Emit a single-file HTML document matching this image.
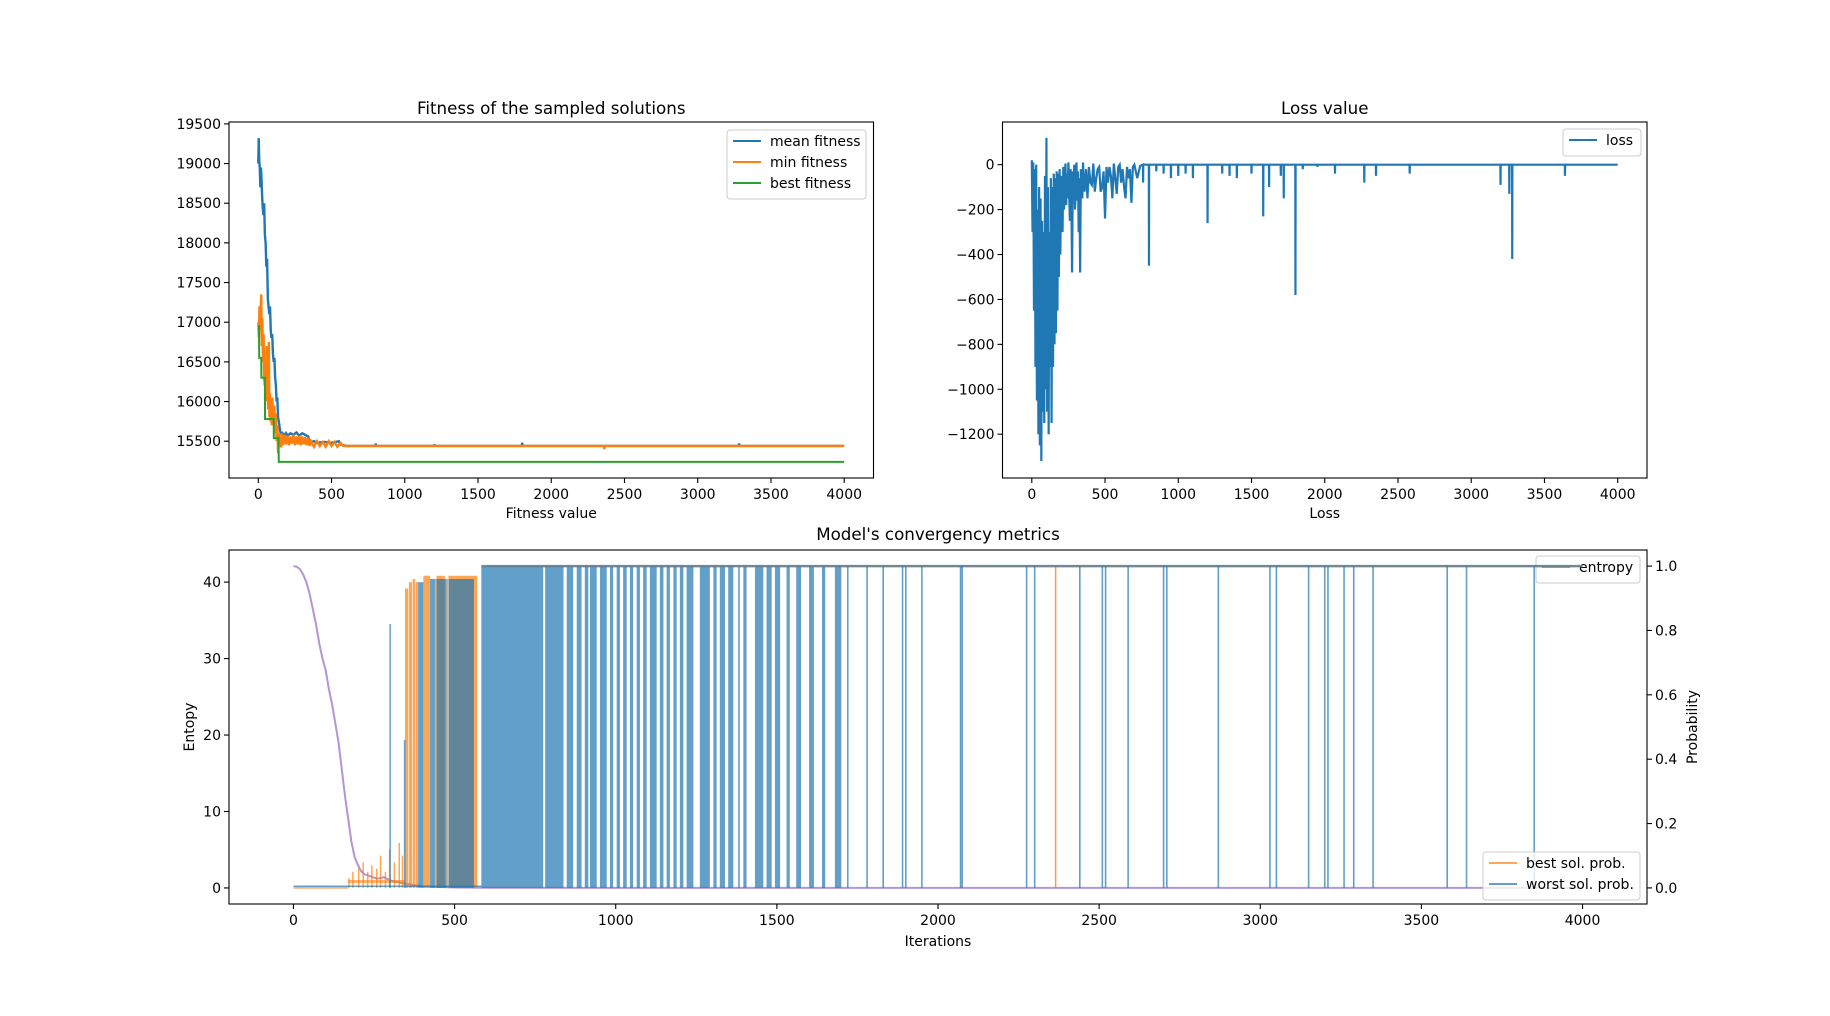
<!DOCTYPE html>
<html><head><meta charset="utf-8">
<style>
html,body{margin:0;padding:0;background:#fff;}
svg{display:block;font-family:"DejaVu Sans","Liberation Sans",sans-serif;}
</style></head>
<body>
<svg id="fig" width="1830" height="1016" viewBox="0 0 1830 1016" xmlns="http://www.w3.org/2000/svg">
<rect width="1830" height="1016" fill="#fff"/>
</svg>
<script>
// ---------- data ----------
const xTicks = [0,500,1000,1500,2000,2500,3000,3500,4000];
const fitTicks = [15500,16000,16500,17000,17500,18000,18500,19000,19500];
const lossTicks = [0,-200,-400,-600,-800,-1000,-1200];
const entTicks = [0,10,20,30,40];
const probTicks = [0.0,0.2,0.4,0.6,0.8,1.0];

const meanX = [0,3,6,10,14,18,22,26,30,35,40,45,50,55,60,65,70,75,80,85,90,95,100,105,110,115,120,125,130,135,140,145,150,155,160,165,170,175,180,190,200,220,240,260,280,300,320,340,350,360,380,400,450,500,550,560,580,600,800,801,805,1200,1201,1205,1800,1801,1805,3280,3282,3286,4000];
const meanY = [19000,19320,19050,18950,18700,18950,18800,18600,18450,18350,18500,18100,18000,17700,17800,17300,17200,17100,17200,16900,16800,16850,16600,16500,16550,16300,16200,16000,16050,15800,15750,15680,15620,15600,15570,15590,15560,15580,15560,15600,15570,15600,15580,15610,15570,15600,15580,15560,15500,15490,15500,15480,15490,15480,15500,15460,15450,15440,15440,15470,15440,15440,15460,15440,15440,15480,15440,15440,15470,15440,15440];

const minX = [0,4,8,12,16,20,24,28,32,36,40,44,48,52,56,60,64,68,72,76,80,84,88,92,96,100,105,110,115,120,125,130,135,140,145,150,155,160,170,180,190,200,210,220,230,240,250,260,270,280,290,300,310,320,330,340,350,360,380,400,420,440,460,480,500,520,540,560,580,600,2360,2362,2366,4000];
const minY = [17000,16800,17200,16900,17150,17350,16700,17050,16500,16850,16300,16200,16500,16000,16700,16100,16600,15900,16750,15800,16100,15750,16000,15700,16050,15800,15700,15950,15600,15850,15500,15700,15350,15600,15450,15550,15420,15600,15450,15580,15460,15570,15450,15560,15470,15580,15450,15560,15460,15570,15450,15560,15460,15550,15450,15540,15440,15500,15430,15500,15440,15490,15430,15500,15440,15490,15430,15480,15440,15440,15440,15400,15440,15440];

const bestX = [0,5,6,20,21,40,45,46,100,105,106,135,138,140,4000];
const bestY = [16950,16950,16550,16550,16300,16300,16300,15780,15780,15780,15540,15540,15540,15240,15240];

const lossX = [0,5,10,15,20,25,30,35,40,45,50,55,60,65,70,75,80,85,90,95,100,105,110,115,120,125,130,135,140,145,150,155,160,165,170,175,180,185,190,195,200,205,210,215,220,225,230,235,240,245,250,255,260,265,270,275,280,285,290,295,300,305,310,315,320,325,330,335,340,345,350,355,360,370,380,390,400,410,420,430,440,450,460,470,480,490,500,510,520,530,540,550,560,570,580,590,600,610,620,630,640,650,660,670,680,690,700,720,740];
const lossY = [20,-300,10,-650,-20,-900,0,-1050,-200,-1200,-100,-1250,-150,-1320,-250,-1100,-300,-1150,-50,-1000,120,-1100,-100,-1200,-300,-900,-60,-1150,-100,-900,-40,-800,-60,-750,-30,-650,-40,-500,-20,-400,-50,-200,-300,-10,-200,-60,5,-180,-40,-150,10,-120,-250,-20,-150,-480,-30,-100,0,-200,-100,10,-160,-30,-300,-60,-480,-20,-50,-150,10,-100,-120,-20,-150,-10,-80,-90,5,-120,-60,-20,-10,-120,-100,-30,-240,-10,-80,-10,-50,-150,5,-60,-130,-10,0,-80,-20,-100,-150,-10,-60,-20,-170,-10,0,-60,-5];
const lossSpikeX = [760,800,850,900,950,1000,1050,1100,1200,1300,1350,1400,1500,1580,1620,1700,1720,1800,1850,1950,2070,2270,2350,2580,3200,3260,3280,3640];
const lossSpikeY = [-80,-450,-30,-40,-60,-50,-40,-60,-260,-40,-50,-60,-40,-230,-100,-50,-150,-580,-20,-10,-40,-80,-50,-40,-90,-130,-420,-50];

const entX = [0,10,20,30,40,50,60,70,80,90,100,110,120,130,140,150,160,170,180,190,200,210,220,240,260,280,300,340,400,500,600,1700,4000];
const entY = [42.1,42,41.7,41,40,38.5,36.5,34.5,32,30,28.5,26,24,21.5,19,15.5,12,9,6,4,3,2.2,1.8,1.5,1.2,1.4,1.0,0.6,0.2,0.05,0.02,0.01,0];

// orange "best solution probability" dense bands: start, end, top value
const bestBandStart = [170,182,200,214,228,241,256,268,283,296,311,326,336,346,358,370,380,403,439,444,475,481];
const bestBandEnd   = [172,184,202,216,230,243,258,270,285,298,313,328,338,356,368,378,387,424,441,470,478,570];
const bestBandTop   = [0.03,0.05,0.06,0.08,0.05,0.07,0.06,0.1,0.05,0.12,0.08,0.14,0.1,0.93,0.95,0.96,0.95,0.97,0.96,0.97,0.96,0.97];
const bestOnX = 600; // value stays at 1 after this iteration
const bestSpikeX = [2365];

// blue "worst solution probability" dense bands
const worstBandStart = [387,424,444,481,583,781,848,879,904,920,951,982,1003,1023,1044,1065,1085,1106,1137,1158,1179,1199,1220,1261,1303,1323,1349,1380,1396,1432,1468,1494,1530,1560,1600,1640,1680];
const worstBandEnd   = [403,439,475,560,775,838,868,894,915,941,972,992,1013,1034,1054,1075,1096,1127,1148,1168,1189,1210,1241,1292,1313,1339,1365,1385,1406,1458,1484,1510,1540,1575,1615,1650,1700];
const worstBandTop   = [0.95,0.96,0.96,0.96,1,1,1,1,1,1,1,1,1,1,1,1,1,1,1,1,1,1,1,1,1,1,1,1,1,1,1,1,1,1,1,1,1];
const worstDropX = [1720,1780,1830,1890,1900,1950,2070,2075,2275,2300,2440,2510,2520,2590,2700,2710,2870,3030,3050,3150,3200,3210,3260,3290,3350,3580,3640,3850];
const worstSpikeX = [300,345];
const worstSpikeY = [0.82,0.46];

// ---------- helpers ----------
const NS = "http://www.w3.org/2000/svg";
const fig = document.getElementById('fig');
function mk(tag, attrs, parent){
  const e = document.createElementNS(NS, tag);
  for (const k in attrs) e.setAttribute(k, attrs[k]);
  (parent||fig).appendChild(e);
  return e;
}
function lin(d0,d1,p0,p1){ return v => p0 + (v-d0)/(d1-d0)*(p1-p0); }
function pts(xs, ys, sx, sy){ return xs.map((x,i)=>sx(x).toFixed(2)+','+sy(ys[i]).toFixed(2)).join(' '); }

function frame(L,T,R,B,name){
  const r = mk('rect',{x:L,y:T,width:R-L,height:B-T,fill:'none',stroke:'#000','stroke-width':1.1});
  
  
}
function xAxis(ticks, sx, B, name){
  const g = mk('g',{});
  
  
  ticks.forEach(t=>{
    const x = sx(t);
    mk('line',{x1:x,x2:x,y1:B,y2:B+5,stroke:'#000','stroke-width':1.1},g);
    const tx = mk('text',{x:x,y:B+21,'font-size':14,'text-anchor':'middle',fill:'#000'},g);
    tx.textContent = t;
  });
}
function yAxis(ticks, sy, L, name, fmt, right){
  const g = mk('g',{});
  
  
  ticks.forEach(t=>{
    const y = sy(t);
    mk('line',{x1:L,x2:right?L+5:L-5,y1:y,y2:y,stroke:'#000','stroke-width':1.1},g);
    const tx = mk('text',{x:right?L+8:L-8,y:y+5,'font-size':14,'text-anchor':right?'start':'end',fill:'#000'},g);
    tx.textContent = fmt?fmt(t):String(t).replace('-','\u2212');
  });
}
function label(txt,x,y,size,name,rot){
  const t = mk('text',{x:x,y:y,'font-size':size,'text-anchor':'middle',fill:'#000'});
  if (rot) t.setAttribute('transform','rotate(-90 '+x+' '+y+')');
  t.textContent = txt;
  
  
}
function legend(x,y,w,entries,name){
  const g = mk('g',{});
  
  
  mk('rect',{x:x,y:y,width:w,height:entries.length*21+6,rx:3,fill:'#fff','fill-opacity':0.8,stroke:'#ccc','stroke-width':1},g);
  entries.forEach((e,i)=>{
    const cy = y+11+i*21;
    mk('line',{x1:x+6,x2:x+34,y1:cy,y2:cy,stroke:e[1],'stroke-width':2,'stroke-opacity':e[2]||1},g);
    const t = mk('text',{x:x+43,y:cy+5,'font-size':14,fill:'#000'},g);
    t.textContent = e[0];
  });
}

// ---------- panel 1: fitness ----------
{
  const L=229,R=873.5,T=122,B=478;
  const sx = lin(-200,4200,L,R), sy = lin(15036,19524,B,T);
  label('Fitness of the sampled solutions',(L+R)/2,114,16.7,'fitness-title');
  const g = mk('g',{});
  
  
  const l1 = mk('polyline',{points:pts(meanX,meanY,sx,sy),fill:'none',stroke:'#1f77b4','stroke-width':2.4},g);
  
  
  const l2 = mk('polyline',{points:pts(minX,minY,sx,sy),fill:'none',stroke:'#ff7f0e','stroke-width':2.4},g);
  
  
  const l3 = mk('polyline',{points:pts(bestX,bestY,sx,sy),fill:'none',stroke:'#2ca02c','stroke-width':2},g);
  
  
  frame(L,T,R,B,'fitness-axes-frame');
  xAxis(xTicks,sx,B,'fitness-x-axis');
  yAxis(fitTicks,sy,L,'fitness-y-axis');
  label('Fitness value',(L+R)/2,518,14,'fitness-x-title');
  legend(727,130,139,[['mean fitness','#1f77b4'],['min fitness','#ff7f0e'],['best fitness','#2ca02c']],'fitness-legend');
}

// ---------- panel 2: loss ----------
{
  const L=1002.5,R=1647,T=122,B=478;
  const sx = lin(-200,4200,L,R), sy = lin(-1395,190,B,T);
  label('Loss value',(L+R)/2,114,16.7,'loss-title');
  const xs = lossX.slice(), ys = lossY.slice();
  lossSpikeX.forEach((x,i)=>{ xs.push(x-1,x,x+1); ys.push(0,lossSpikeY[i],0); });
  xs.push(4000); ys.push(0);
  const l = mk('polyline',{points:pts(xs,ys,sx,sy),fill:'none',stroke:'#1f77b4','stroke-width':2.2});
  
  
  frame(L,T,R,B,'loss-axes-frame');
  xAxis(xTicks,sx,B,'loss-x-axis');
  yAxis(lossTicks,sy,L,'loss-y-axis');
  label('Loss',(L+R)/2,518,14,'loss-x-title');
  legend(1563,129,78,[['loss','#1f77b4']],'loss-legend');
}

// ---------- panel 3: convergency ----------
{
  const L=229,R=1647,T=550,B=904;
  const sx = lin(-200,4200,L,R), sy = lin(-2.1,44.2,B,T), sp = lin(-0.05,1.05,B,T);
  label("Model's convergency metrics",(L+R)/2,540,16.7,'convergency-title');
  const e = mk('polyline',{points:pts(entX,entY,sx,sy),fill:'none',stroke:'#9467bd','stroke-width':2,'stroke-opacity':0.7});
  
  
  legend(1536,556,104,[['entropy','#9467bd',0.7]],'entropy-legend');

  // orange best sol prob
  const go = mk('g',{fill:'#ff7f0e','fill-opacity':0.7,stroke:'none'});
  
  
  mk('line',{x1:sx(0),x2:sx(bestBandStart[0]),y1:sp(0),y2:sp(0),stroke:'#ff7f0e','stroke-width':1.5,'stroke-opacity':0.7},go);
  mk('line',{x1:sx(bestBandStart[0]),x2:sx(346),y1:sp(0.02),y2:sp(0.02),stroke:'#ff7f0e','stroke-width':3,'stroke-opacity':0.6},go);
  bestBandStart.forEach((s,i)=>{
    const r = mk('rect',{x:sx(s),y:sp(bestBandTop[i]),width:Math.max(1.5,sx(bestBandEnd[i])-sx(s)),height:sp(0)-sp(bestBandTop[i])},go);
    
    
  });
  mk('line',{x1:sx(bestOnX),x2:sx(4000),y1:sp(1),y2:sp(1),stroke:'#ff7f0e','stroke-width':1.5,'stroke-opacity':0.7},go);
  bestSpikeX.forEach(x=>{
    const s = mk('line',{x1:sx(x),x2:sx(x),y1:sp(0),y2:sp(1),stroke:'#ff7f0e','stroke-width':1.5,'stroke-opacity':0.8},go);
    
    
  });

  // blue worst sol prob
  const gb = mk('g',{fill:'#1f77b4','fill-opacity':0.7,stroke:'none'});
  
  
  mk('line',{x1:sx(0),x2:sx(583),y1:sp(0.005),y2:sp(0.005),stroke:'#1f77b4','stroke-width':1.5,'stroke-opacity':0.7},gb);
  worstBandStart.forEach((s,i)=>{
    const r = mk('rect',{x:sx(s),y:sp(worstBandTop[i]),width:Math.max(1.5,sx(worstBandEnd[i])-sx(s)),height:sp(0)-sp(worstBandTop[i])},gb);
    
    
  });
  mk('line',{x1:sx(583),x2:sx(4000),y1:sp(1),y2:sp(1),stroke:'#5b7f96','stroke-width':2.5,'stroke-opacity':0.85},gb);
  worstDropX.forEach(x=>{
    const s = mk('line',{x1:sx(x),x2:sx(x),y1:sp(0),y2:sp(1),stroke:'#1f77b4','stroke-width':1.6,'stroke-opacity':0.7},gb);
    
    
  });
  worstSpikeX.forEach((x,i)=>{
    const s = mk('line',{x1:sx(x),x2:sx(x),y1:sp(0),y2:sp(worstSpikeY[i]),stroke:'#1f77b4','stroke-width':1.5,'stroke-opacity':0.7},gb);
    
    
  });

  frame(L,T,R,B,'convergency-axes-frame');
  xAxis(xTicks,sx,B,'iterations-x-axis');
  yAxis(entTicks,sy,L,'entropy-y-axis');
  yAxis(probTicks,sp,R,'probability-y-axis',v=>v.toFixed(1),true);
  label('Iterations',(L+R)/2,946,14,'iterations-x-title');
  label('Entopy',194,727,14,'entropy-y-title',true);
  label('Probability',1697,727,14,'probability-y-title',true);
  legend(1483,852,157,[['best sol. prob.','#ff7f0e',0.7],['worst sol. prob.','#1f77b4',0.7]],'probability-legend');
}
</script>
</body></html>
